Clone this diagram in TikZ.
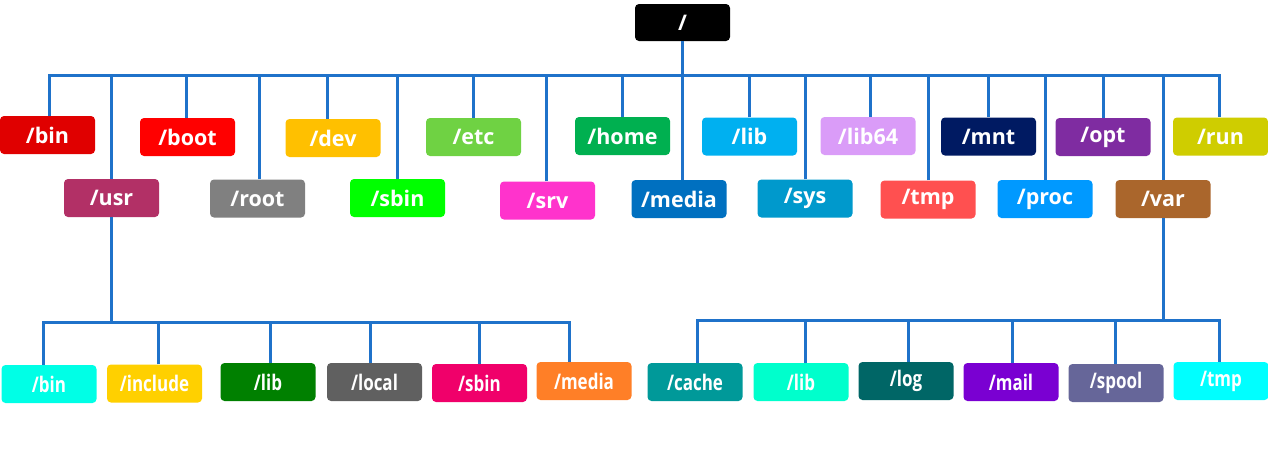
\documentclass[tikz,border=0pt]{standalone}
\usepackage{graphicx}
\usepackage{fontspec}
\setmainfont{Open Sans}
\definecolor{conn}{HTML}{1F72CA}
\definecolor{cRoot}{HTML}{000000}
\definecolor{cBin}{HTML}{E00000}
\definecolor{cBoot}{HTML}{FF0000}
\definecolor{cDev}{HTML}{FFC000}
\definecolor{cEtc}{HTML}{6FD243}
\definecolor{cHome}{HTML}{00B050}
\definecolor{cLib}{HTML}{00B0F0}
\definecolor{cLibsf}{HTML}{DA9CF8}
\definecolor{cMnt}{HTML}{001A62}
\definecolor{cOpt}{HTML}{7F2CA1}
\definecolor{cRun}{HTML}{CFCD00}
\definecolor{cUsr}{HTML}{B23066}
\definecolor{cRootd}{HTML}{808080}
\definecolor{cSbin}{HTML}{00FF00}
\definecolor{cSrv}{HTML}{FF33CC}
\definecolor{cMedia}{HTML}{0070C0}
\definecolor{cSys}{HTML}{0099CC}
\definecolor{cTmp}{HTML}{FF5050}
\definecolor{cProc}{HTML}{0099FF}
\definecolor{cVar}{HTML}{AA662C}
\definecolor{cUbin}{HTML}{00FFE6}
\definecolor{cInc}{HTML}{FFD000}
\definecolor{cUlib}{HTML}{008000}
\definecolor{cLocal}{HTML}{606060}
\definecolor{cUsbin}{HTML}{F0006A}
\definecolor{cUmedia}{HTML}{FF7F27}
\definecolor{cCache}{HTML}{009999}
\definecolor{cVlib}{HTML}{00FFCC}
\definecolor{cLog}{HTML}{006666}
\definecolor{cMail}{HTML}{7A00D2}
\definecolor{cSpool}{HTML}{666699}
\definecolor{cVtmp}{HTML}{00FFFF}
\tikzset{
  dirbox/.style={rounded corners=4pt, minimum width=95pt, minimum height=38pt,
    inner sep=0pt, text=white, font=\fontsize{21.5}{24}\selectfont\bfseries, fill=#1},
  subbox/.style={dirbox=#1},
  link/.style={draw=conn, line width=3pt},
}
\newcommand{\nar}[1]{\scalebox{0.79}[1]{#1}}
\begin{document}
\begin{tikzpicture}[x=1pt,y=-1pt]
\useasboundingbox (0,0) rectangle (1268,459);
\coordinate (bus) at (0,75);
\coordinate (ubus) at (0,322);
\coordinate (vbus) at (0,320);
% root
\node[dirbox=cRoot, minimum height=37pt] (root) at (682.5,22.5) {/};
% row 1
\node[dirbox=cBin] (bin) at (47.5,135) {/bin};
\node[dirbox=cBoot] (boot) at (187.5,137) {/boot};
\node[dirbox=cDev] (dev) at (333,138) {/dev};
\node[dirbox=cEtc] (etc) at (473.5,137) {/etc};
\node[dirbox=cHome] (home) at (622.5,136) {/home};
\node[dirbox=cLib] (lib) at (749.5,136.5) {/lib};
\node[dirbox=cLibsf] (libsf) at (868,136) {/lib64};
\node[dirbox=cMnt] (mnt) at (988.5,136.5) {/mnt};
\node[dirbox=cOpt] (opt) at (1103,137) {/opt};
\node[dirbox=cRun] (run) at (1220.5,136.5) {/run};
% row 2
\node[dirbox=cUsr] (usr) at (111.5,198) {/usr};
\node[dirbox=cRootd] (rootd) at (257.5,198.5) {/root};
\node[dirbox=cSbin] (sbin) at (397.5,198) {/sbin};
\node[dirbox=cSrv] (srv) at (547.5,200.5) {/srv};
\node[dirbox=cMedia] (media) at (679,199) {/media};
\node[dirbox=cSys] (sys) at (805,198.5) {/sys};
\node[dirbox=cTmp] (tmp) at (928,199.5) {/tmp};
\node[dirbox=cProc] (proc) at (1045,199) {/proc};
\node[dirbox=cVar] (var) at (1163,199) {/var};
% usr children
\node[subbox=cUbin] (ubin) at (49,384) {\nar{/bin}};
\node[subbox=cInc] (inc) at (154.5,383.5) {\nar{/include}};
\node[subbox=cUlib] (ulib) at (268,382) {\nar{/lib}};
\node[subbox=cLocal] (local) at (374.5,382) {\nar{/local}};
\node[subbox=cUsbin] (usbin) at (479.5,383) {\nar{/sbin}};
\node[subbox=cUmedia] (umedia) at (584,381) {\nar{/media}};
% var children
\node[subbox=cCache] (cache) at (695,382) {\nar{/cache}};
\node[subbox=cVlib] (vlib) at (801,382) {\nar{/lib}};
\node[subbox=cLog] (log) at (906,381) {\nar{/log}};
\node[subbox=cMail] (mail) at (1011,382) {\nar{/mail}};
\node[subbox=cSpool] (spool) at (1116,383) {\nar{/spool}};
\node[subbox=cVtmp] (vtmp) at (1221,381) {\nar{/tmp}};
% top bus
\draw[link] ([xshift=1.5pt]bin.north) -- ([xshift=1.5pt]bin.north |- bus)
  -- ([xshift=-1.5pt]run.north |- bus) -- ([xshift=-1.5pt]run.north);
\draw[link] (root.south) -- (root.south |- media.north);
\draw[link] ([xshift=-1.5pt]boot.north) -- ([xshift=-1.5pt]boot.north |- bus);
\draw[link] ([xshift=-6pt]dev.north) -- ([xshift=-6pt]dev.north |- bus);
\draw[link] (etc.north) -- (etc.north |- bus);
\draw[link] (home.north) -- (home.north |- bus);
\draw[link] (lib.north) -- (lib.north |- bus);
\draw[link] ([xshift=2pt]libsf.north) -- ([xshift=2pt]libsf.north |- bus);
\draw[link] (mnt.north) -- (mnt.north |- bus);
\draw[link] (opt.north) -- (opt.north |- bus);
\draw[link] (usr.north) -- (usr.north |- bus);
\draw[link] ([xshift=1.5pt]rootd.north) -- ([xshift=1.5pt]rootd.north |- bus);
\draw[link] (sbin.north) -- (sbin.north |- bus);
\draw[link] ([xshift=-1.5pt]srv.north) -- ([xshift=-1.5pt]srv.north |- bus);
\draw[link] (sys.north) -- (sys.north |- bus);
\draw[link] (tmp.north) -- (tmp.north |- bus);
\draw[link] (proc.north) -- (proc.north |- bus);
\draw[link] (var.north) -- (var.north |- bus);
% usr subtree
\draw[link] (usr.south) -- (usr.south |- ubus);
\draw[link] ([xshift=-6pt]ubin.north) -- ([xshift=-6pt]ubin.north |- ubus)
  -- ([xshift=-15pt]umedia.north |- ubus) -- ([xshift=-15pt]umedia.north);
\draw[link] ([xshift=3.5pt]inc.north) -- ([xshift=3.5pt]inc.north |- ubus);
\draw[link] ([xshift=2pt]ulib.north) -- ([xshift=2pt]ulib.north |- ubus);
\draw[link] ([xshift=-4.5pt]local.north) -- ([xshift=-4.5pt]local.north |- ubus);
\draw[link] (usbin.north) -- (usbin.north |- ubus);
% var subtree
\draw[link] (var.south) -- (var.south |- vbus);
\draw[link] ([xshift=2pt]cache.north) -- ([xshift=2pt]cache.north |- vbus)
  -- ([xshift=-2pt]vtmp.north |- vbus) -- ([xshift=-2pt]vtmp.north);
\draw[link] ([xshift=4pt]vlib.north) -- ([xshift=4pt]vlib.north |- vbus);
\draw[link] ([xshift=2pt]log.north) -- ([xshift=2pt]log.north |- vbus);
\draw[link] ([xshift=1pt]mail.north) -- ([xshift=1pt]mail.north |- vbus);
\draw[link] ([xshift=-1pt]spool.north) -- ([xshift=-1pt]spool.north |- vbus);
\end{tikzpicture}
\end{document}
